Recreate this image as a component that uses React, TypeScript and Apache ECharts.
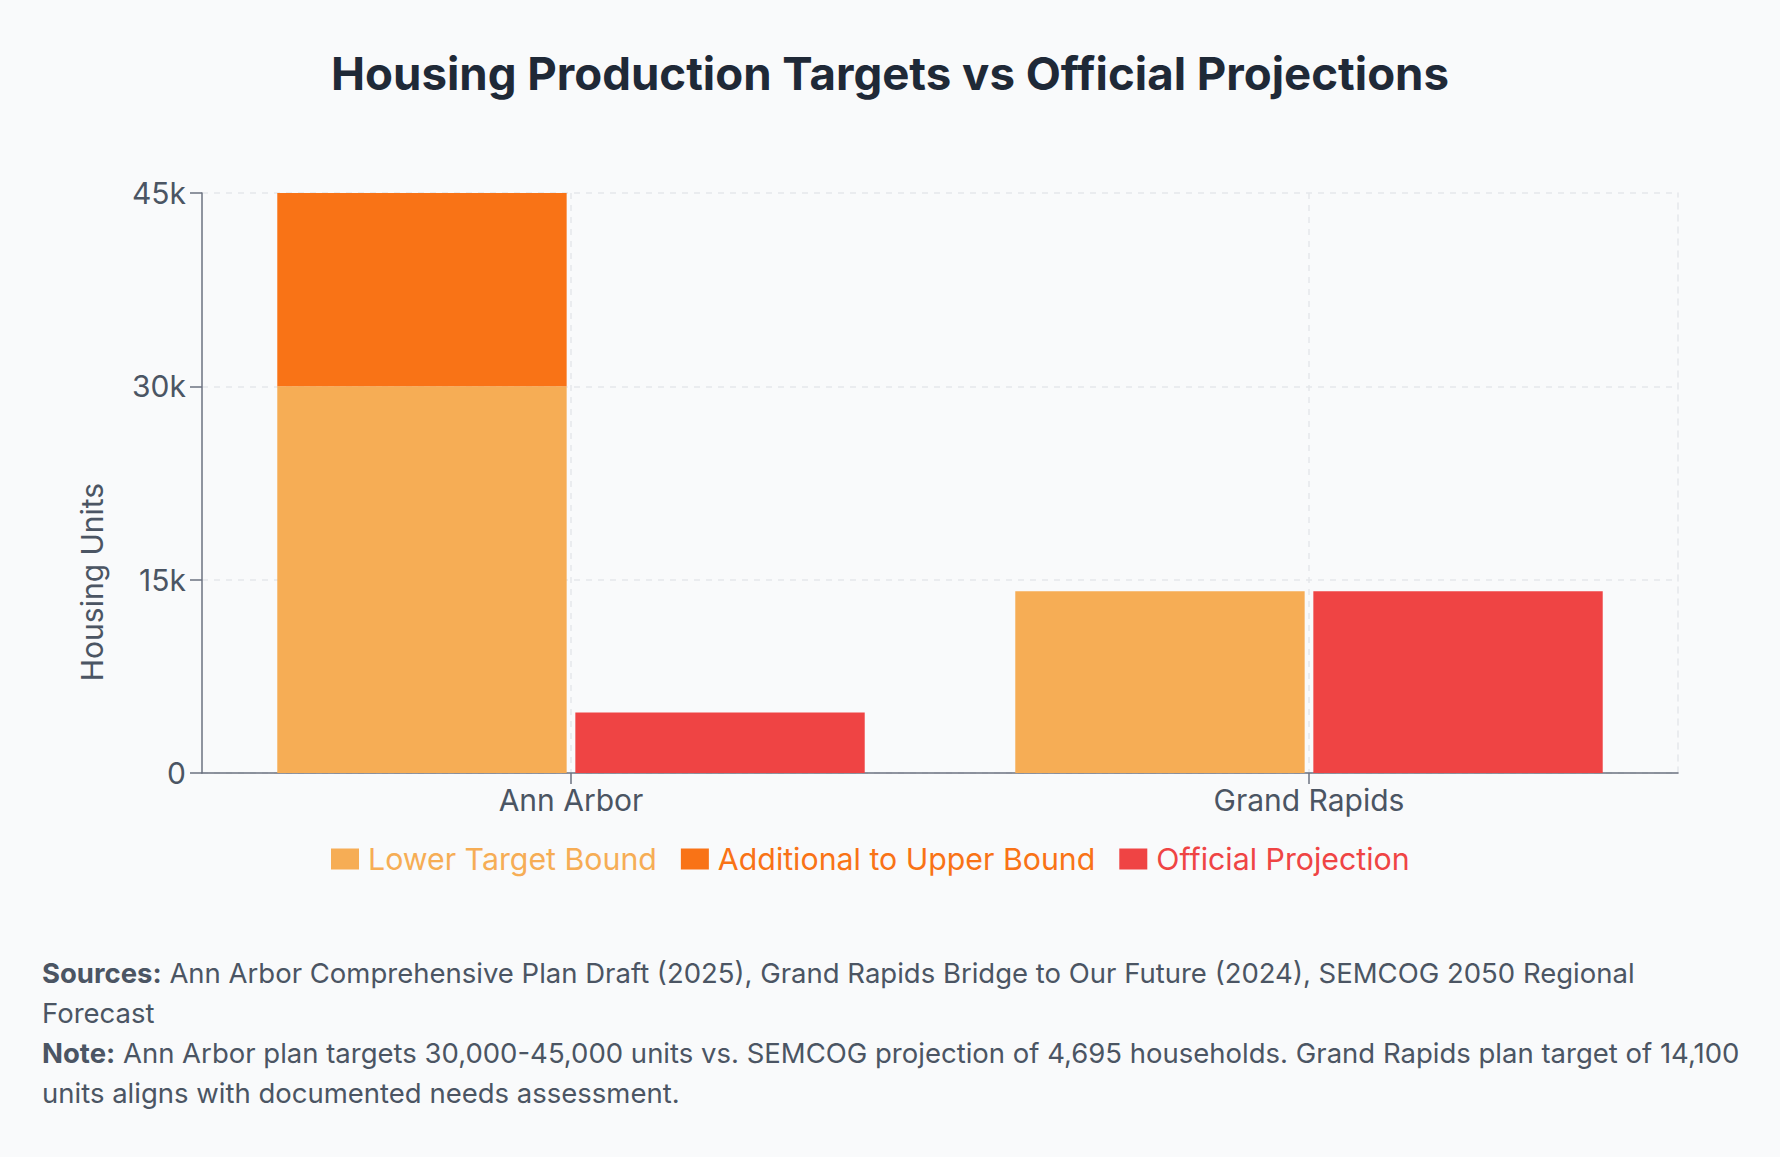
import React, { useEffect, useRef } from "react";
import * as echarts from "echarts";

const categories = ["Ann Arbor", "Grand Rapids"];
const lowerTarget = [30000, 14100];
const additionalUpper = [15000, 0];
const officialProjection = [4695, 14100];
const yTicks = [0, 15000, 30000, 45000];
const yTickLabels = ["0", "15k", "30k", "45k"];
const seriesNames = ["Lower Target Bound", "Additional to Upper Bound", "Official Projection"];
const seriesColors = ["#f6ad55", "#f97316", "#ef4444"];

const titleText = "Housing Production Targets vs Official Projections";
const yAxisTitle = "Housing Units";
const footerText =
  "{b|Sources:} Ann Arbor Comprehensive Plan Draft (2025), Grand Rapids Bridge to Our Future (2024), SEMCOG 2050 Regional\n" +
  "Forecast\n" +
  "{b|Note:} Ann Arbor plan targets 30,000-45,000 units vs. SEMCOG projection of 4,695 households. Grand Rapids plan target of 14,100\n" +
  "units aligns with documented needs assessment.";

const FONT = "Inter, 'Noto Sans', sans-serif";
const TEXT = "#4b5563";
const GRID = "#e5e7eb";
const AXIS = "#6b7280";

export default function App() {
  const ref = useRef<HTMLDivElement>(null);

  useEffect(() => {
    if (!ref.current) return;
    const chart = echarts.init(ref.current, undefined, { renderer: "svg" });
    const yMin = yTicks[0];
    const yMax = yTicks[yTicks.length - 1];
    const yInterval = yTicks[1] - yTicks[0];

    const option: any = {
      animation: false,
      backgroundColor: "#f9fafb",
      textStyle: { fontFamily: FONT },
      title: {
        text: titleText,
        left: "center",
        top: 51,
        padding: 0,
        textStyle: {
          fontFamily: FONT,
          fontSize: 45.6,
          lineHeight: 45,
          fontWeight: "bold",
          color: "#1f2937",
        },
      },
      legend: {
        left: 331,
        top: 844,
        padding: 0,
        icon: "rect",
        itemWidth: 28,
        itemHeight: 21,
        itemGap: 24,
        selectedMode: false,
        data: seriesNames.map((n, i) => ({
          name: n,
          textStyle: { color: seriesColors[i] },
        })),
        textStyle: {
          fontFamily: FONT,
          fontSize: 30.3,
          lineHeight: 21,
          padding: [0, 0, 0, 4],
        },
      },
      grid: { left: 202, right: 102, top: 193, bottom: 384, containLabel: false },
      xAxis: {
        type: "category",
        data: categories,
        axisLine: { show: true, lineStyle: { color: AXIS, width: 1.5 } },
        axisTick: { show: true, alignWithLabel: true, length: 11, lineStyle: { color: AXIS, width: 1.5 } },
        axisLabel: { color: TEXT, fontSize: 30, lineHeight: 30, margin: 12, fontFamily: FONT },
        splitLine: { show: true, alignWithLabel: true, lineStyle: { color: GRID, type: [6, 6], width: 1.5 } },
      },
      yAxis: [
        {
          type: "value",
          min: yMin,
          max: yMax,
          interval: yInterval,
          axisLine: { show: true, lineStyle: { color: AXIS, width: 1.5 } },
          axisTick: { show: true, length: 12, lineStyle: { color: AXIS, width: 1.5 } },
          axisLabel: {
            color: TEXT,
            fontSize: 30,
            margin: 16,
            fontFamily: FONT,
            formatter: (v: number) => {
              const i = yTicks.indexOf(v);
              return i >= 0 ? yTickLabels[i] : "";
            },
          },
          splitLine: { show: true, lineStyle: { color: GRID, type: [6, 6], width: 1.5 } },
        },
        {
          type: "value",
          position: "right",
          min: yMin,
          max: yMax,
          interval: yInterval,
          axisLine: { show: true, lineStyle: { color: GRID, type: [6, 6], width: 1.5 } },
          axisTick: { show: false },
          axisLabel: { show: false },
          splitLine: { show: false },
        },
      ],
      series: [
        {
          name: seriesNames[0],
          type: "bar",
          stack: "target",
          data: lowerTarget,
          itemStyle: { color: seriesColors[0] },
          barCategoryGap: "20.4%",
          barGap: "3%",
        },
        {
          name: seriesNames[1],
          type: "bar",
          stack: "target",
          data: additionalUpper,
          itemStyle: { color: seriesColors[1] },
        },
        {
          name: seriesNames[2],
          type: "bar",
          stack: "projection",
          data: officialProjection,
          itemStyle: { color: seriesColors[2] },
          barCategoryGap: "20.4%",
          barGap: "3%",
        },
      ],
      graphic: [
        {
          type: "text",
          x: 92,
          y: 582,
          rotation: Math.PI / 2,
          style: {
            text: yAxisTitle,
            fill: TEXT,
            font: `30px ${FONT}`,
            align: "center",
            verticalAlign: "middle",
          },
        },
        {
          type: "text",
          left: 42,
          top: 953,
          style: {
            text: footerText,
            fill: TEXT,
            fontFamily: FONT,
            fontSize: 27.5,
            lineHeight: 40,
            rich: {
              b: { fontWeight: "bold", fontSize: 27.5, lineHeight: 40, fill: TEXT, fontFamily: FONT },
            },
          },
        },
      ],
    };

    chart.setOption(option);
    return () => chart.dispose();
  }, []);

  return (
    <div
      ref={ref}
      style={{ position: "fixed", left: 0, top: 0, width: 1780, height: 1157, background: "#f9fafb" }}
    />
  );
}
